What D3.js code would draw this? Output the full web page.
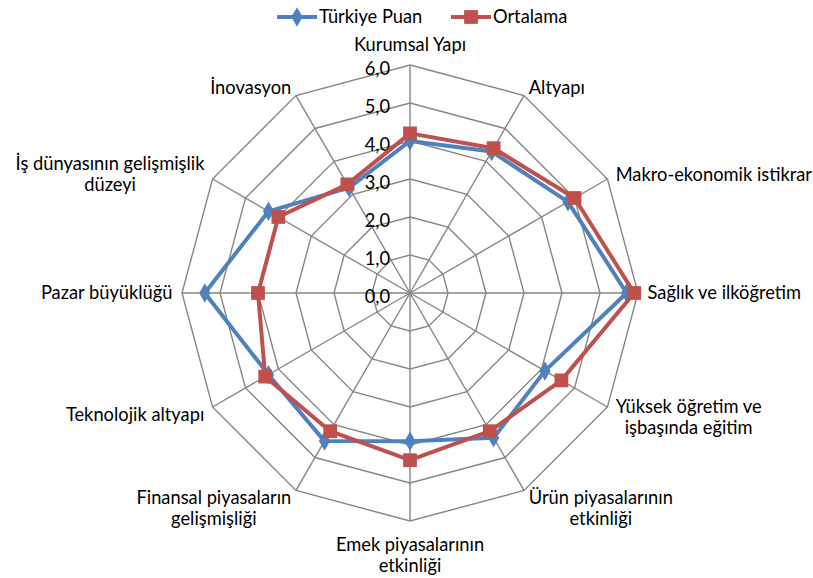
<!DOCTYPE html>
<html>
<head>
<meta charset="utf-8">
<script src="https://cdn.jsdelivr.net/npm/d3@7"></script>
<style>
  body { margin: 0; background: #fff; }
  svg text { font-family: Lato, "Open Sans", sans-serif; fill: #000; }
</style>
</head>
<body>
<div class="radar_area"></div>
<script>
var categories = [
  ["Kurumsal Yapı"],
  ["Altyapı"],
  ["Makro-ekonomik istikrar"],
  ["Sağlık ve ilköğretim"],
  ["Yüksek öğretim ve", "işbaşında eğitim"],
  ["Ürün piyasalarının", "etkinliği"],
  ["Emek piyasalarının", "etkinliği"],
  ["Finansal piyasaların", "gelişmişliği"],
  ["Teknolojik altyapı"],
  ["Pazar büyüklüğü"],
  ["İş dünyasının gelişmişlik", "düzeyi"],
  ["İnovasyon"]
];
var turkiyePuan = [4.0, 4.3, 4.8, 5.7, 4.1, 4.4, 3.9, 4.5, 4.3, 5.4, 4.3, 3.2];
var ortalama    = [4.2, 4.4, 5.0, 5.9, 4.6, 4.2, 4.4, 4.2, 4.4, 4.0, 4.0, 3.3];
var tickValues = [0, 1, 2, 3, 4, 5, 6];
var seriesNames = ["Türkiye Puan", "Ortalama"];

var width = 813, height = 578;
var cx = 410, cy = 293, radius = 228;
var blue = "#4F81BD", red = "#C0504D", gridColor = "#868686";
var fontSize = "18.3px";

var svg = d3.select(".radar_area")
    .append("svg")
    .attr("width", width)
    .attr("height", height);

var r = d3.scaleLinear().domain([0, 6]).range([0, radius]);
var angle = d3.scaleLinear().domain([0, categories.length]).range([0, 2 * Math.PI]);

function pt(i, v) {
    var a = angle(i);
    return [cx + r(v) * Math.sin(a), cy - r(v) * Math.cos(a)];
}

var g = svg.append("g");

// grid rings
tickValues.slice(1).forEach(function (t) {
    var pts = categories.map(function (c, i) { return pt(i, t); });
    g.append("polygon")
        .attr("points", pts.map(function (p) { return p.join(","); }).join(" "))
        .attr("fill", "none")
        .attr("stroke", gridColor)
        .attr("stroke-width", 1.4);
});

// spokes
categories.forEach(function (c, i) {
    var p = pt(i, 6);
    g.append("line")
        .attr("x1", cx).attr("y1", cy)
        .attr("x2", p[0]).attr("y2", p[1])
        .attr("stroke", gridColor)
        .attr("stroke-width", 1.4);
});

// tick labels
g.selectAll(".tick_label")
    .data(tickValues)
    .enter()
    .append("text")
    .attr("class", "tick_label")
    .attr("x", cx - 20)
    .attr("y", function (d) { return cy - r(d) + 3; })
    .attr("dy", "0.36em")
    .attr("text-anchor", "end")
    .style("font-size", fontSize)
    .text(function (d) { return d.toFixed(1).replace(".", ","); });

// category labels
var lineH = 21.5;
categories.forEach(function (lines, i) {
    var a = angle(i);
    var s = Math.sin(a), c = Math.cos(a);
    var p = pt(i, 6.25);
    var t = g.append("text").style("font-size", fontSize);
    lines.forEach(function (l) {
        t.append("tspan").text(l);
    });
    var widths = [];
    t.selectAll("tspan").each(function () { widths.push(this.getComputedTextLength()); });
    var w = d3.max(widths), h = lines.length * lineH;
    var left;
    if (s > 0.1) left = p[0];
    else if (s < -0.1) left = p[0] - w;
    else left = p[0] - w / 2;
    var centerY;
    if (Math.abs(s) > 0.1) centerY = p[1] - (c < 0 ? c * h / 4 : 0);
    else centerY = p[1] - c * h / 2 + (c < 0 ? 3 : 0);
    var top = centerY - h / 2;
    t.selectAll("tspan")
        .attr("x", left + w / 2)
        .attr("y", function (d, k) { return top + k * lineH + lineH / 2; })
        .attr("dy", "0.35em")
        .attr("text-anchor", "middle");
});

// series
var line = d3.line().curve(d3.curveLinearClosed);

function drawSeries(values, color, shape, size) {
    var pts = values.map(function (v, i) { return pt(i, v); });
    g.append("path")
        .attr("d", line(pts))
        .attr("fill", "none")
        .attr("stroke", color)
        .attr("stroke-width", 4)
        .attr("stroke-linejoin", "round");
    g.selectAll(null)
        .data(pts)
        .enter()
        .append("path")
        .attr("d", d3.symbol().type(shape).size(size))
        .attr("transform", function (d) { return "translate(" + d[0] + "," + d[1] + ")"; })
        .attr("fill", color);
}

drawSeries(turkiyePuan, blue, d3.symbolDiamond, 110);
drawSeries(ortalama, red, d3.symbolSquare, 190);

// legend
var legend = svg.append("g");
var legendItems = [
    { name: seriesNames[0], color: blue, shape: d3.symbolDiamond, size: 110, x: 277 },
    { name: seriesNames[1], color: red, shape: d3.symbolSquare, size: 190, x: 451 }
];
legendItems.forEach(function (d) {
    legend.append("line")
        .attr("x1", d.x).attr("x2", d.x + 40)
        .attr("y1", 17).attr("y2", 17)
        .attr("stroke", d.color)
        .attr("stroke-width", 4);
    legend.append("path")
        .attr("d", d3.symbol().type(d.shape).size(d.size))
        .attr("transform", "translate(" + (d.x + 20) + ",17)")
        .attr("fill", d.color);
    legend.append("text")
        .attr("x", d.x + 42)
        .attr("y", 17)
        .attr("dy", "0.35em")
        .style("font-size", fontSize)
        .text(d.name);
});
</script>
</body>
</html>
